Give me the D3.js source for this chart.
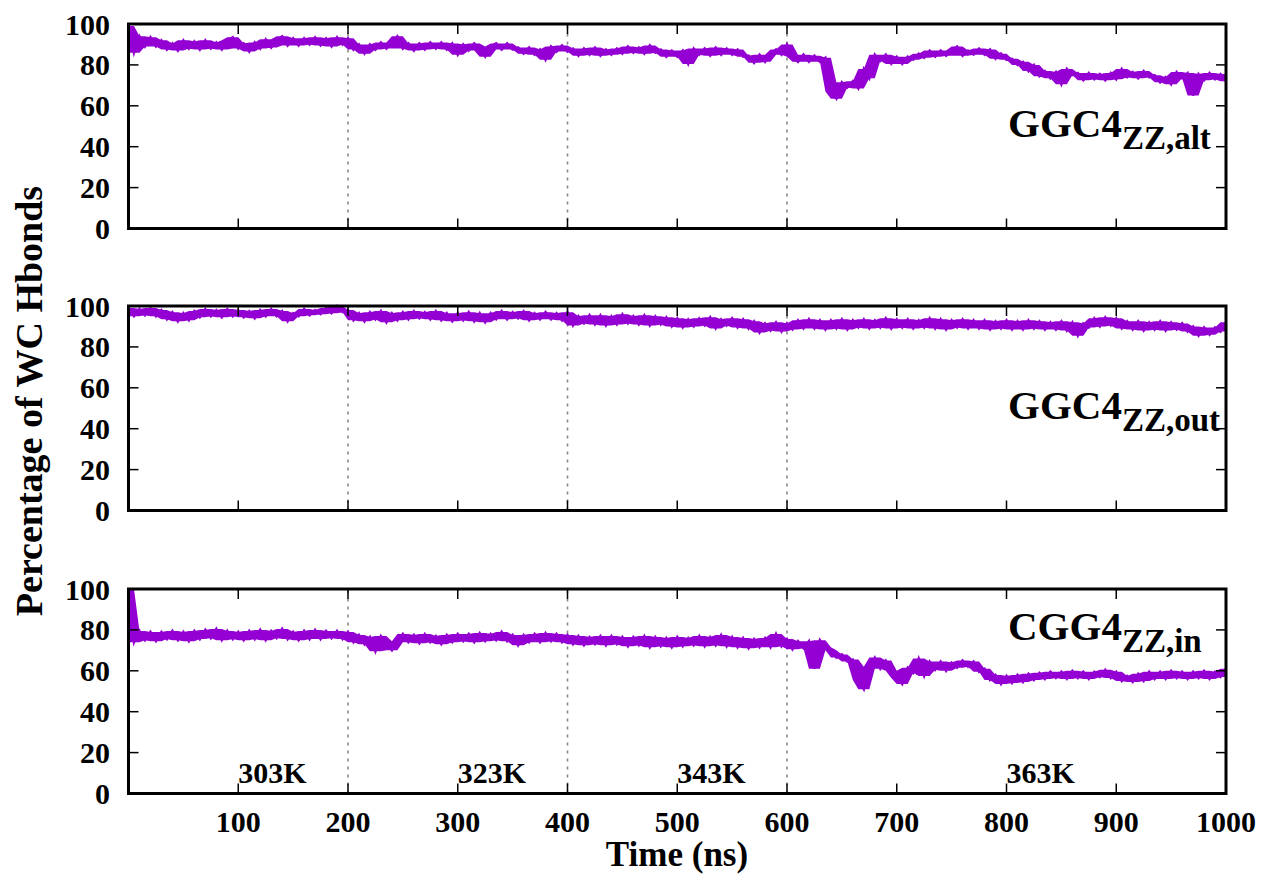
<!DOCTYPE html>
<html><head><meta charset="utf-8">
<script src="https://cdn.jsdelivr.net/npm/d3@7"></script>
<style>
html,body{margin:0;padding:0;background:#fff;}
text{font-family:"Liberation Serif","Times New Roman",serif;font-weight:bold;fill:#000;}
</style></head>
<body>
<svg id="chart" width="1263" height="874"></svg>
<script>
// ---- data (sampled every 5 ns, 0..1000 ns) ----
const timeStep = 5;
const ggcAlt = [99,86,94,89,93.5,89,92,87.5,90.5,87,92,88,91.5,87.5,92,88,91,87.5,92,93.5,
88,90.5,86.5,91,88,92.5,88.5,92,94,89.5,93,89.5,93,90,93.5,89.5,93,89,93.5,90,
93,87.5,90,85.5,90,87.5,91,88,91,94,88,90.5,87,90.5,87.5,91,88,91,87.5,90.5,
85,90,87,90.5,87.5,84,89,90.5,87.5,90.5,87.5,88.5,85.5,88.5,85,87.5,82.5,89,86.5,89.5,
86.5,88,84.5,88,85,88.5,84.5,87.5,85,88,85.5,89,86,88.5,85.5,89.5,86,87.5,84,87,
84,87,80.5,88,85,88,84.5,88.5,85,88,85,87.5,84,84.5,81,85,81.5,85,87.5,85,
90,84,81.5,85,81.5,84.5,81.5,83.5,67,63.5,71.5,69,72,68.5,78,73.5,85,82,85,80.5,
84,80.5,84,82.5,85.5,83.5,87,84,87,84.5,87,89,84.5,87,85,88,85,87.5,83,85.5,
82.5,83,80,81.5,77,80,74.5,77,73.5,76.5,70.5,78,75,76,72.5,76,73,75.5,72.5,76,
73,78,74,76.5,73.5,77,74,75,71.5,74,70.5,76.5,73.5,76,65,75.5,72.5,76,73,75.5,
72];
const ggcOut = [99,95,98.5,95.5,99,95,98,93.5,97,92.5,96.5,93,97.5,94.5,98.5,95,98,94.5,98.5,95,
98,94.5,97.5,94,98,95,98.5,95,97.5,92.5,96.5,95,98.5,95.5,98,96,99,96.5,100,97,
98,93,96.5,92.5,97,93.5,97.5,92,96.5,93,97,93.5,97.5,94,97,93.5,97.5,93,96.5,92.5,
96.5,93,97,92.5,96.5,92,96.5,93.5,97.5,93.5,97,94,97.5,93,96.5,93.5,97,93.5,96.5,93,
97,90.5,95,91.5,95.5,91,95.5,90.5,95,91,96,91.5,95,91,95.5,90.5,95,91,94.5,90,
94,89.5,93.5,90,94,90.5,94.5,89,93.5,90.5,94,89.5,93.5,89,92.5,87,91.5,88,92,87.5,
91.5,88.5,93,89,93.5,89,93,88.5,93,89,93.5,88.5,93,89.5,93.5,89,93,89.5,94,89,
93.5,89.5,93.5,89,93,89.5,94,89,93.5,88.5,93,89.5,93.5,89,93,89,93,88.5,92.5,89,
93,88.5,92.5,88.5,93,89,92.5,88.5,92,88.5,92.5,88,92,85.5,91.5,89.5,94,90,94.5,90.5,
94,89,92.5,88.5,92.5,88,92,88.5,92.5,88,92,88.5,91.5,87.5,90,85.5,89.5,86,89.5,87.5,
92];
const cggIn = [100,74,79.5,75,79,74.5,79,75.5,79.5,75,79,74.5,79.5,75.5,80,76,80.5,75,79.5,75.5,
79,75,79.5,75.5,80,75,79.5,76,80.5,75.5,79,75,79.5,75.5,80,75.5,79.5,76,79.5,75.5,
79,74,77.5,73,76.5,69.5,77,73.5,70,74.5,78,74,77.5,73.5,78,74,77,73,77.5,74,
78,74.5,78,74,78.5,74.5,78,75,79,74.5,77.5,72.5,77.5,74,78,74,78.5,74.5,78,74,
77.5,73,77,72.5,76.5,73,77,72.5,77,73,76.5,72,76.5,72.5,77,71.5,76.5,72,76,71.5,
76.5,72,76,72.5,77,72,76.5,72.5,77.5,72,76.5,71.5,76,71,75.5,71.5,76,71.5,78,72,
75.5,70.5,74.5,71,74.5,61,75,71.5,70,66.5,68,64.5,65.5,55.5,51,62,66.5,61,65,60,
56.5,53.5,61.5,59,66,57.5,64.5,60.5,64.5,60,64,61.5,65,62,64.5,59.5,61,55.5,58,53.5,
57.5,54,58,54.5,58.5,55.5,59,56,59.5,56.5,59.5,56,60,56.5,59.5,56,59.5,57,60.5,56.5,
59.5,55,57.5,54.5,58.5,55,59.5,56,59.5,56,60,56.5,59.5,56,59.5,56.5,60,56,59.5,57,
61];
const seriesList = [ggcAlt, ggcOut, cggIn];
const panelNames = [["GGC4","ZZ,alt"],["GGC4","ZZ,out"],["CGG4","ZZ,in"]];
const yTicks = [0,20,40,60,80,100];
const xTicks = [100,200,300,400,500,600,700,800,900,1000];
const tempBreaks = [200,400,600];
const tempLabels = ["303K","323K","343K","363K"];
const tempLabelPos = [100,300,500,800];

// ---- layout ----
const svg = d3.select("#chart");
const x = d3.scaleLinear().domain([0,1000]).range([128.5,1226]);
const panelTops = [24,306,589];
const panelH = 204.5;
const titleBase = [137,419,640];
const purple = "#9400D3";

seriesList.forEach((vals,p)=>{
  const top = panelTops[p];
  const y = d3.scaleLinear().domain([0,100]).range([top+panelH, top]);
  const g = svg.append("g");
  // dashed separators
  tempBreaks.forEach(t=>{
    g.append("line").attr("x1",x(t)).attr("x2",x(t)).attr("y1",y(0)).attr("y2",y(100))
      .attr("stroke","#888").attr("stroke-width",1.6).attr("stroke-dasharray","3,5");
  });
  // data: dense trace -> envelope of consecutive samples plus the trace itself
  const data = vals.map((v,i)=>[i*timeStep, v]);
  const env = data.map((d,i)=>{
    const nb = data[Math.min(i+1,data.length-1)][1];
    const pv = data[Math.max(i-1,0)][1];
    return {t:d[0], lo:Math.min(d[1],nb,pv), hi:Math.max(d[1],nb,pv)};
  });
  g.append("path").datum(env)
    .attr("fill",purple).attr("stroke","none")
    .attr("d", d3.area().x(d=>x(d.t)).y0(d=>y(d.lo)).y1(d=>y(d.hi)));
  g.append("path").datum(data)
    .attr("fill","none").attr("stroke",purple).attr("stroke-width",2.5)
    .attr("stroke-linejoin","miter")
    .attr("d", d3.line().x(d=>x(d[0])).y(d=>y(d[1])));
  // ticks (inward, mirrored)
  yTicks.forEach(t=>{
    g.append("line").attr("x1",x(0)).attr("x2",x(0)+10).attr("y1",y(t)).attr("y2",y(t)).attr("stroke","#000").attr("stroke-width",1.5);
    g.append("line").attr("x1",x(1000)).attr("x2",x(1000)-10).attr("y1",y(t)).attr("y2",y(t)).attr("stroke","#000").attr("stroke-width",1.5);
    g.append("text").attr("x",110).attr("y",y(t)).attr("dy","0.35em").attr("text-anchor","end")
      .attr("font-size",30).text(t);
  });
  xTicks.forEach(t=>{
    g.append("line").attr("x1",x(t)).attr("x2",x(t)).attr("y1",y(0)).attr("y2",y(0)-10).attr("stroke","#000").attr("stroke-width",1.5);
    g.append("line").attr("x1",x(t)).attr("x2",x(t)).attr("y1",y(100)).attr("y2",y(100)+10).attr("stroke","#000").attr("stroke-width",1.5);
  });
  // frame
  g.append("rect").attr("x",x(0)).attr("y",y(100)).attr("width",x(1000)-x(0)).attr("height",y(0)-y(100))
    .attr("fill","none").attr("stroke","#000").attr("stroke-width",3);
  // panel title
  const tt = g.append("text").attr("x",1008).attr("y",titleBase[p]).attr("font-size",41);
  tt.append("tspan").text(panelNames[p][0]);
  tt.append("tspan").attr("font-size",33).attr("dy",11.5).text(panelNames[p][1]);
  if(p===2){
    xTicks.forEach(t=>{
      g.append("text").attr("x",x(t)).attr("y",832).attr("text-anchor","middle").attr("font-size",30).text(t);
    });
    tempLabels.forEach((s,i)=>{
      g.append("text").attr("x",x(tempLabelPos[i])).attr("y",783).attr("font-size",30).text(s);
    });
  }
});

svg.append("text").attr("transform","translate(42,401) rotate(-90)").attr("text-anchor","middle")
  .attr("font-size",38).text("Percentage of WC Hbonds");
svg.append("text").attr("x",677).attr("y",866).attr("text-anchor","middle")
  .attr("font-size",35).text("Time (ns)");
</script>
</body></html>
